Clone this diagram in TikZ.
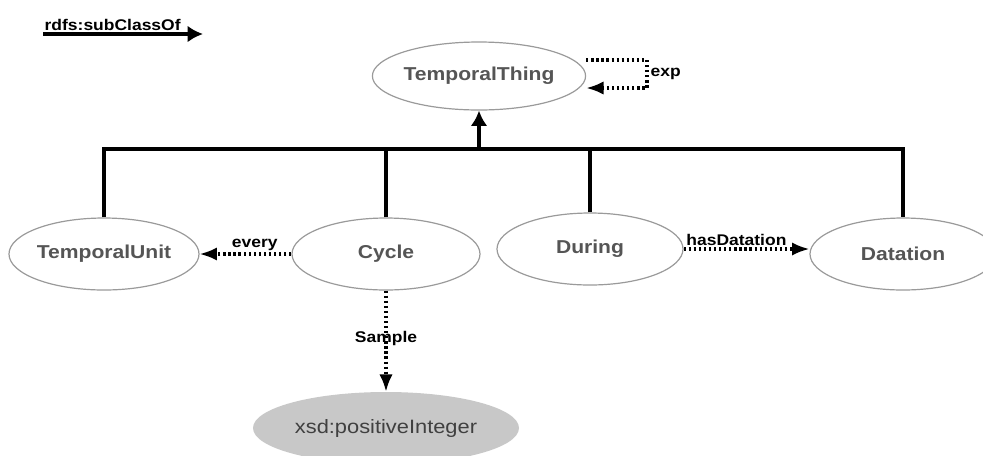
\documentclass[tikz,border=0pt]{standalone}
\usepackage{fontspec}
\setmainfont{Liberation Sans}[FakeStretch=1.13]
\usepackage{tikz}
\usetikzlibrary{positioning,shapes.geometric,arrows.meta}
\definecolor{classtext}{HTML}{555555}
\definecolor{classline}{HTML}{9A9A9A}
\definecolor{datafill}{HTML}{C8C8C8}

\begin{document}
\begin{tikzpicture}[x=0.75pt,y=-0.75pt,
  class/.style={ellipse,draw=classline,line width=0.9pt,fill=white,inner sep=0pt,
    minimum width=139.5pt,minimum height=54pt,text=classtext,
    font=\fontsize{14}{16}\selectfont\bfseries},
  datatype/.style={ellipse,fill=datafill,inner sep=0pt,minimum width=199.5pt,
    minimum height=54pt,text=black!75,font=\fontsize{14.5}{17}\selectfont},
  tree/.style={line width=3pt},
  subclass/.style={line width=3pt,-{Latex[length=11.5pt,width=12.5pt]}},
  prop/.style={line width=2.3pt,dash pattern=on 1.7pt off 2.1pt,
    -{Latex[length=13pt,width=10pt]}},
  proplabel/.style={font=\fontsize{11.6}{13}\selectfont\bfseries,inner sep=1.5pt}]
\useasboundingbox (0,0) rectangle (983,455);
\node[class,minimum width=154.5pt,minimum height=51pt] (TemporalThing) at (479,76) {TemporalThing};
\node[class] (TemporalUnit) at (104,254) {TemporalUnit};
\node[class,minimum width=141pt] (Cycle) at (386,254) {Cycle};
\node[class] (During) at (590,249) {During};
\node[class] (Datation) at (903,254) {Datation};
\node[datatype] (PositiveInt) at (386,428) {xsd:positiveInteger};

\coordinate (bar) at (479,149);
\coordinate (expturn) at (647,74);
\coordinate (legstart) at (43,34);
\coordinate (legend) at (203,34);

\draw[subclass,line width=2.5pt] (legstart) -- (legend)
  node[pos=0,anchor=south west,proplabel,inner xsep=0pt] (legendlabel) {rdfs:subClassOf};

\draw[tree] (TemporalUnit.north) |- (bar) -| (Datation.north);
\draw[tree] (Cycle.north) -- (Cycle.north |- bar);
\draw[tree] (During.north) -- (During.north |- bar);
\draw[subclass] (bar) -- (TemporalThing.south);

\draw[prop] ([yshift=12pt]TemporalThing.east) -| (expturn) |- ([yshift=-9pt]TemporalThing.east);
\node[proplabel,right=1pt of expturn] (explabel) {exp};
\draw[prop] (Cycle.west) -- (TemporalUnit.east) node[pos=0.4,above,proplabel] (everylabel) {every};
\draw[prop] (During.east) -- (During.east -| Datation.west)
  node[pos=0.42,above,proplabel] (hasdatationlabel) {hasDatation};
\draw[prop] (Cycle.south) -- (PositiveInt.north) node[pos=0.47,proplabel] (samplelabel) {Sample};
\end{tikzpicture}
\end{document}
